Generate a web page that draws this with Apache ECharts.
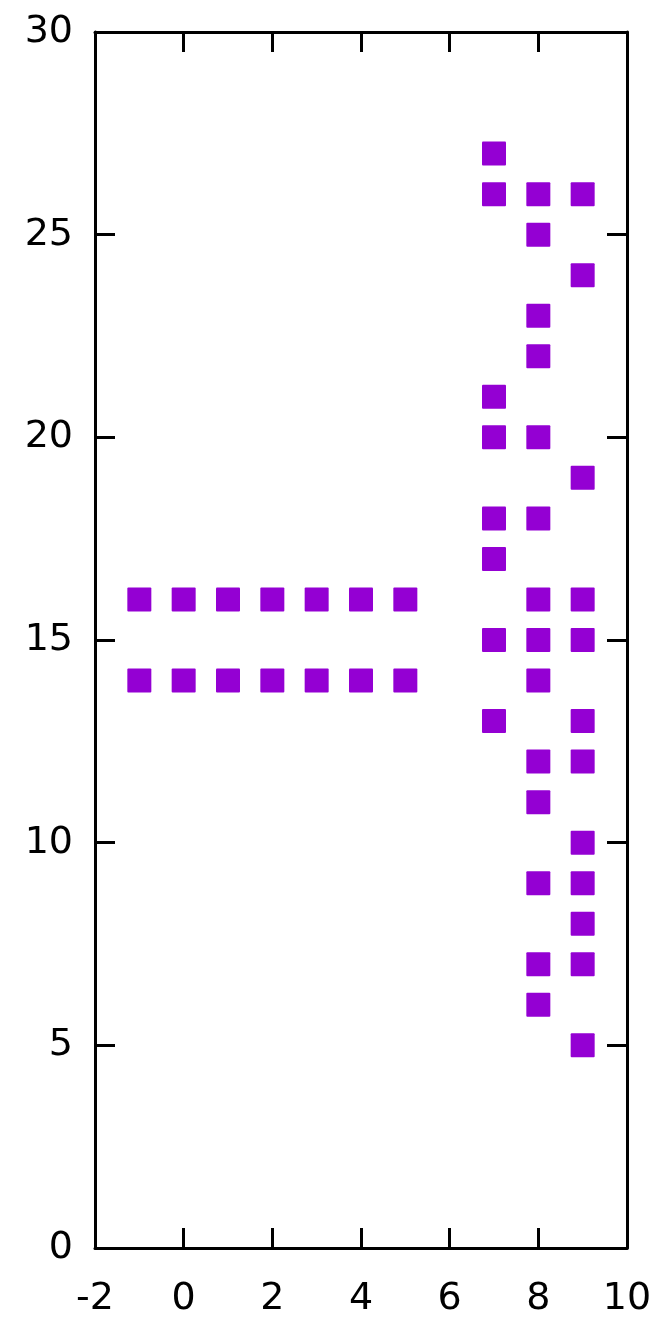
<!DOCTYPE html>
<html>
<head>
<meta charset="utf-8">
<script src="https://cdn.jsdelivr.net/npm/echarts@6/dist/echarts.min.js"></script>
<style>html,body{margin:0;padding:0;background:#fff}#c{width:671px;height:1337px}</style>
</head>
<body>
<div id="c"></div>
<script>
// Data points (x, y)
const xValues = [-1,0,1,2,3,4,5, -1,0,1,2,3,4,5,
  7,7,7,7,7,7,7,7,
  8,8,8,8,8,8,8,8,8,8,8,8,8,8,
  9,9,9,9,9,9,9,9,9,9,9,9];
const yValues = [16,16,16,16,16,16,16, 14,14,14,14,14,14,14,
  27,26,21,20,18,17,15,13,
  26,25,23,22,20,18,16,15,14,12,11,9,7,6,
  26,24,19,16,15,13,12,10,9,8,7,5];
const xTicks = [-2,0,2,4,6,8,10];
const yTicks = [0,5,10,15,20,25,30];

const pts = xValues.map((x,i)=>[x,yValues[i]]);
const chart = echarts.init(document.getElementById('c'), null, {renderer:'canvas'});
const font = 'DejaVu Sans';
const lineStyle = {color:'#000', width:3};
function xAx(show, pos){
  return {type:'value', min:-2, max:10, interval:2, position:pos,
    axisLine:{show:true, onZero:false, lineStyle},
    axisTick:{show:true, inside:true, length:20, lineStyle},
    axisLabel:{show:show, fontFamily:font, fontSize:38, color:'#000', margin:32},
    splitLine:{show:false}};
}
function yAx(show, pos){
  return {type:'value', min:0, max:30, interval:5, position:pos,
    axisLine:{show:true, onZero:false, lineStyle},
    axisTick:{show:true, inside:true, length:20, lineStyle},
    axisLabel:{show:show, fontFamily:font, fontSize:38, color:'#000', margin:22},
    splitLine:{show:false}};
}
chart.setOption({
  animation:false,
  backgroundColor:'#fff',
  grid:{left:95, right:44, top:32, bottom:89, containLabel:false},
  xAxis:[xAx(true,'bottom'), xAx(false,'top')],
  yAxis:[yAx(true,'left'), yAx(false,'right')],
  series:[{type:'scatter', xAxisIndex:0, yAxisIndex:0, data:pts,
    symbol:'path://M1,0 H23 Q24,0 24,1 V23 Q24,24 23,24 H1 Q0,24 0,23 V1 Q0,0 1,0 Z',
    symbolSize:24, itemStyle:{color:'#9400D3', opacity:1}}]
});
</script>
</body>
</html>
